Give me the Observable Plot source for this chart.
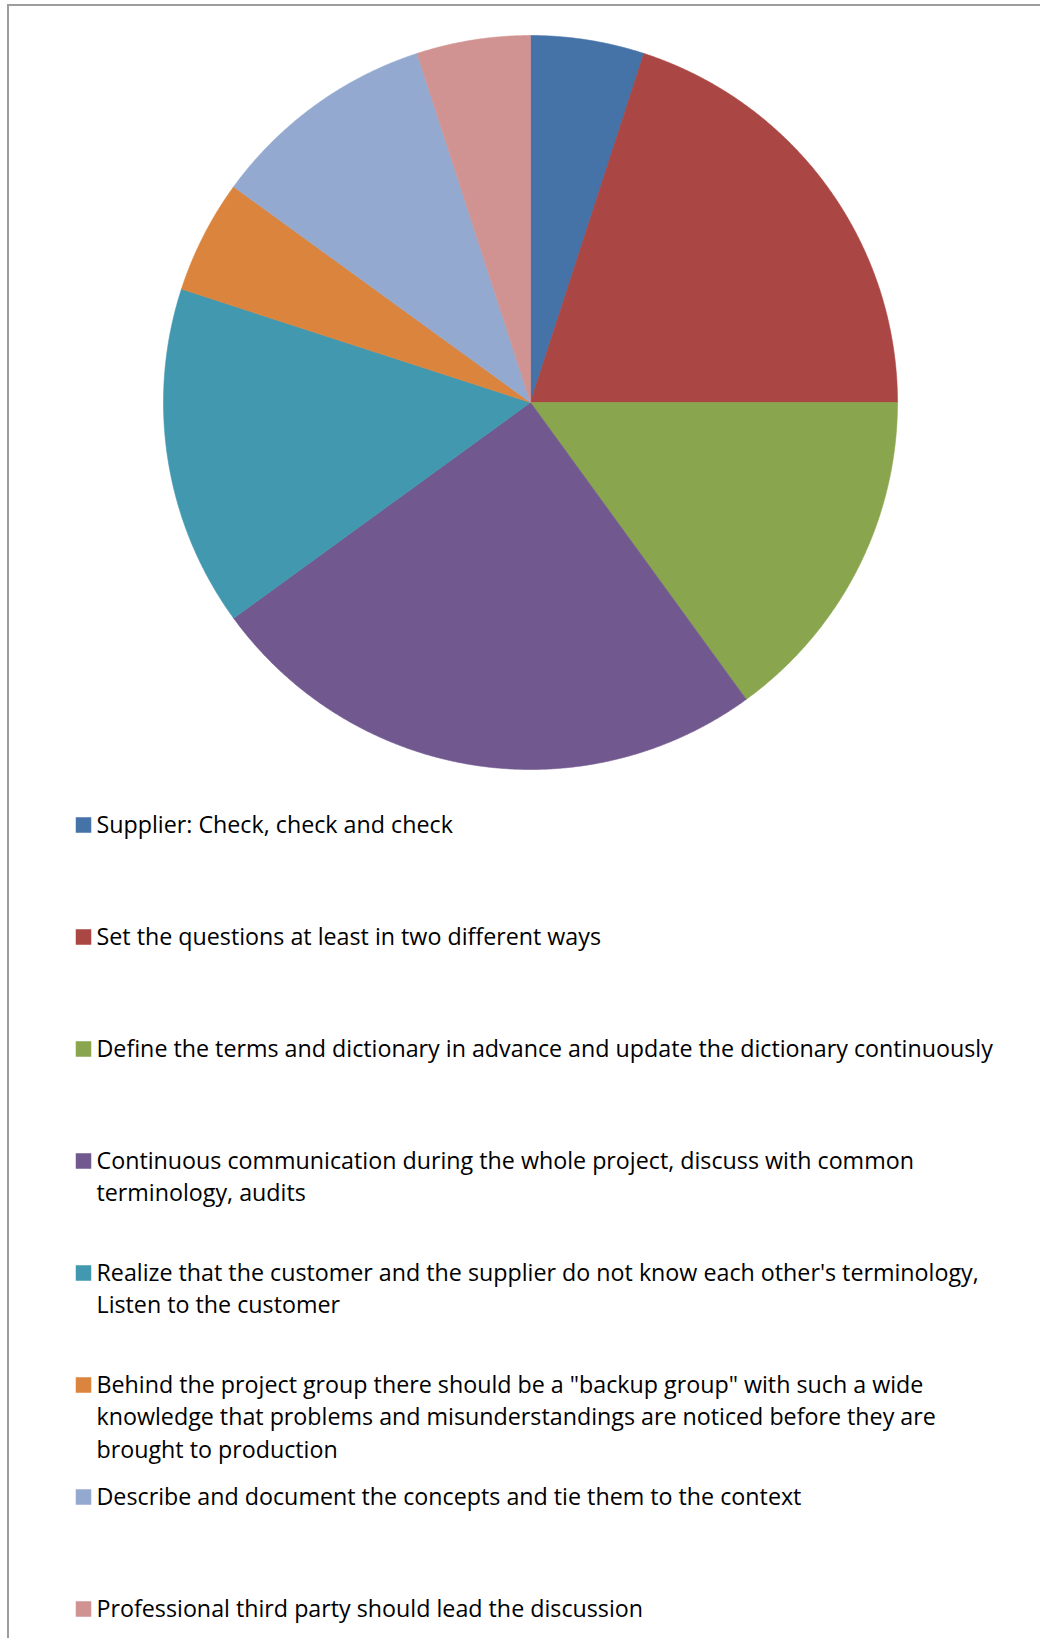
<!DOCTYPE html>
<html>
<head>
<meta charset="utf-8">
<script src="https://cdn.jsdelivr.net/npm/d3@7"></script>
<script src="https://cdn.jsdelivr.net/npm/@observablehq/plot@0.6"></script>
<style>
  html, body { margin: 0; padding: 0; background: #fff; overflow: hidden; }
  #wrap { position: relative; width: 1040px; height: 1638px; }
  #frame { position: absolute; left: 7px; top: 4px; width: 1100px; height: 1700px;
           border: 2px solid #9d9d9d; box-sizing: border-box; pointer-events: none; }
  #pie, #legend { position: absolute; left: 0; }
  #pie { top: 0; }
  #legend { top: 800px; }
  svg { display: block; }
</style>
</head>
<body>
<div id="wrap">
  <div id="frame"></div>
  <div id="pie"></div>
  <div id="legend"></div>
</div>
<script>
// ---- data ----
const categories = [
  "Supplier: Check, check and check",
  "Set the questions at least in two different ways",
  "Define the terms and dictionary in advance and update the dictionary continuously",
  "Continuous communication during the whole project, discuss with common terminology, audits",
  "Realize that the customer and the supplier do not know each other's terminology, Listen to the customer",
  "Behind the project group there should be a \"backup group\" with such a wide knowledge that problems and misunderstandings are noticed before they are brought to production",
  "Describe and document the concepts and tie them to the context",
  "Professional third party should lead the discussion"
];
const legendLines = [
  "Supplier: Check, check and check",
  "Set the questions at least in two different ways",
  "Define the terms and dictionary in advance and update the dictionary continuously",
  "Continuous communication during the whole project, discuss with common\nterminology, audits",
  "Realize that the customer and the supplier do not know each other's terminology,\nListen to the customer",
  "Behind the project group there should be a \"backup group\" with such a wide\nknowledge that problems and misunderstandings are noticed before they are\nbrought to production",
  "Describe and document the concepts and tie them to the context",
  "Professional third party should lead the discussion"
];
const values = [1, 4, 3, 5, 3, 1, 2, 1];
const colors = ["#4572A7", "#AA4643", "#89A54E", "#71588F", "#4198AF", "#DB843D", "#93A9CF", "#D19392"];

// ---- pie geometry from values ----
const arcs = d3.pie().sort(null).value((d, i) => values[i])(categories);
const points = [];
arcs.forEach((a, i) => {
  const cat = categories[i];
  points.push({cat, x: 0, y: 0});
  const n = Math.max(2, Math.ceil((a.endAngle - a.startAngle) / (Math.PI / 720)));
  for (let k = 0; k <= n; k++) {
    const t = a.startAngle + (a.endAngle - a.startAngle) * k / n;
    points.push({cat, x: Math.sin(t), y: Math.cos(t)});
  }
  points.push({cat, x: 0, y: 0});
});

const cx = 530, cy = 402, R = 367;
const pie = Plot.plot({
  width: 1040,
  height: 800,
  x: {domain: [-1, 1], range: [cx - R, cx + R], axis: null},
  y: {domain: [-1, 1], range: [cy + R, cy - R], axis: null},
  color: {domain: categories, range: colors},
  marks: [
    Plot.line(points, {x: "x", y: "y", z: "cat", fill: "cat", stroke: "cat", strokeWidth: 0.6, curve: "linear"})
  ]
});
document.getElementById("pie").appendChild(pie);

// ---- legend ----
const ctx = document.createElement("canvas").getContext("2d");
ctx.font = "100px 'Open Sans'";
const fs = Math.min(26, Math.max(18, 100 * 897 / ctx.measureText(categories[2]).width));
const lineH = 33;
const firstBaseline = 30.7, step = 112.5;

const legend = Plot.plot({
  width: 1040,
  height: 838,
  marginLeft: 96,
  marginRight: 0,
  marginTop: 0,
  marginBottom: 0,
  style: {fontFamily: "'Open Sans', 'Noto Sans', sans-serif", background: "transparent"},
  y: {type: "point", domain: categories, range: [firstBaseline, firstBaseline + 7 * step], padding: 0, axis: null},
  color: {domain: categories, range: colors},
  marks: [
    Plot.dot(categories, {y: d => d, frameAnchor: "left", symbol: "square", r: 15.5 / Math.sqrt(Math.PI),
      fill: d => d, stroke: null, dx: -13, dy: -7.5}),
    Plot.text(categories, {y: d => d, text: (d, i) => legendLines[i], frameAnchor: "left", textAnchor: "start",
      lineAnchor: "top", dy: -0.71 * lineH, fontSize: fs, lineHeight: lineH / fs, fill: "#000"})
  ]
});
document.getElementById("legend").appendChild(legend);
</script>
</body>
</html>
